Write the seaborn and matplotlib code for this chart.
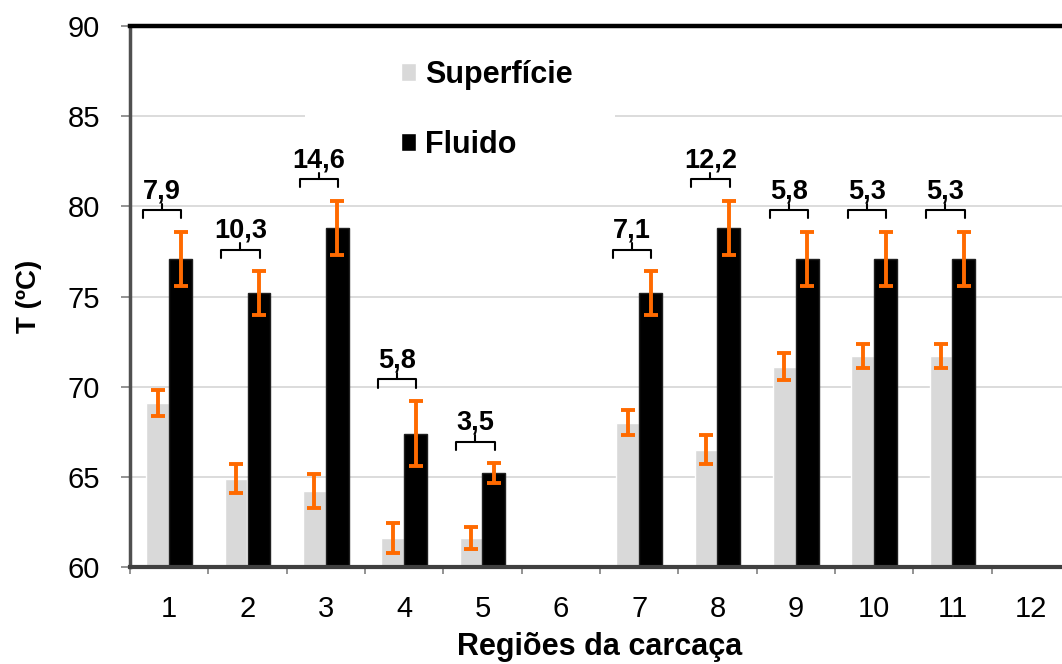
import numpy as np
import pandas as pd
import matplotlib
matplotlib.use('Agg')
import matplotlib.pyplot as plt
import seaborn as sns
from matplotlib.patches import Patch, Rectangle

# dados (T em ºC)
regioes = ['1', '2', '3', '4', '5', '6', '7', '8', '9', '10', '11', '12']
superficie = [69.1, 64.9, 64.2, 61.6, 61.6, np.nan, 68.0, 66.5, 71.1, 71.7, 71.7, np.nan]
superficie_err = [0.7, 0.8, 0.95, 0.85, 0.6, np.nan, 0.7, 0.8, 0.75, 0.65, 0.65, np.nan]
fluido = [77.1, 75.2, 78.8, 67.4, 65.2, np.nan, 75.2, 78.8, 77.1, 77.1, 77.1, np.nan]
fluido_err = [1.5, 1.2, 1.5, 1.8, 0.55, np.nan, 1.2, 1.5, 1.5, 1.5, 1.5, np.nan]
diferenca = [7.9, 10.3, 14.6, 5.8, 3.5, np.nan, 7.1, 12.2, 5.8, 5.3, 5.3, np.nan]

series = ['Superfície', 'Fluido']
cores = ['#D9D9D9', '#000000']
laranja = '#FF6A00'

df = pd.DataFrame({
    'regiao': regioes * 2,
    'serie': [series[0]] * len(regioes) + [series[1]] * len(regioes),
    'temp': superficie + fluido,
}).dropna()

sns.set_theme(style='white')
plt.rcParams['font.family'] = ['Liberation Sans', 'DejaVu Sans']
plt.rcParams['text.color'] = 'black'
plt.rcParams['axes.labelcolor'] = 'black'

fig = plt.figure(figsize=(10.62, 6.64), dpi=100)
ax = fig.add_axes([130/1062, 97/664, 940/1062, 541/664])

sns.barplot(data=df, x='regiao', y='temp', hue='serie', order=regioes,
            hue_order=series, palette=cores, saturation=1, width=0.58, gap=0,
            errorbar=None, legend=False, ax=ax)

# barras de erro
for cont, errs in zip(ax.containers, [superficie_err, fluido_err]):
    for bar in cont:
        xc = bar.get_x() + bar.get_width() / 2
        i = int(round(xc))
        ax.errorbar(xc, bar.get_height(), yerr=errs[i], color=laranja, lw=2.8,
                    capsize=5, capthick=2.8, zorder=4)
for bar in ax.containers[1]:
    bar.set_edgecolor('#202020')
    bar.set_linewidth(1)

# chaves com a diferenca
for i, d in enumerate(diferenca):
    if np.isnan(d):
        continue
    y = fluido[i] + fluido_err[i] + 1.2
    xc = i - 0.09
    x0, x1 = xc - 0.245, xc + 0.245
    ax.plot([x0, x0, x1, x1], [y - 0.45, y, y, y - 0.45], color='black', lw=1.5, zorder=5)
    ax.plot([xc, xc], [y, y + 0.35], color='black', lw=1.5, zorder=5)
    ax.text(xc, y + 1.05, f'{d:.1f}'.replace('.', ','), ha='center', va='center',
            fontsize=19.5, fontweight='bold', color='black', zorder=6)

# fundo branco da legenda
ax.add_patch(Rectangle((305/1062, (664-190)/664), 310/1062, 150/664,
                       transform=fig.transFigure, facecolor='white',
                       edgecolor='none', zorder=0.9))
handles = [Patch(facecolor=c, label=s) for c, s in zip(cores, series)]
ax.legend(handles=handles, loc='upper left', bbox_to_anchor=(401/1062, (664-60)/664),
          bbox_transform=fig.transFigure, frameon=False,
          prop={'size': 22, 'weight': 'bold'}, handlelength=0.5, handleheight=0.5,
          handletextpad=0.3, labelspacing=1.3, borderpad=0, borderaxespad=0)

ax.set_ylim(60, 90)
ax.set_xlim(-0.5, 11.5)
ax.set_yticks(np.arange(60, 91, 5))
ax.set_xticks(np.arange(-0.5, 12, 1), minor=True)
ax.set_axisbelow(True)
ax.yaxis.grid(True, color='#D9D9D9', lw=1.3)
ax.xaxis.grid(False)

ax.tick_params(axis='y', which='major', direction='out', length=6.5, width=1.2,
               color='#808080', labelcolor='black', left=True, pad=15, labelsize=21)
ax.tick_params(axis='x', which='major', length=0, pad=20, labelsize=21,
               labelcolor='black')
ax.tick_params(axis='x', which='minor', direction='out', length=5, width=1.2,
               color='#808080', bottom=True)

ax.spines['top'].set_color('black')
ax.spines['top'].set_linewidth(3.2)
ax.spines['left'].set_color('#505050')
ax.spines['left'].set_linewidth(2.5)
ax.spines['bottom'].set_color('#404040')
ax.spines['bottom'].set_linewidth(3)
ax.spines['right'].set_visible(False)

ax.set_xlabel('Regiões da carcaça', fontsize=22, fontweight='bold')
ax.set_ylabel('T (ºC)', fontsize=20, fontweight='bold')
ax.xaxis.set_label_coords(0.5, -0.12)
ax.yaxis.set_label_coords(-0.0936, 0.5)

plt.savefig('out.png', dpi=100)
